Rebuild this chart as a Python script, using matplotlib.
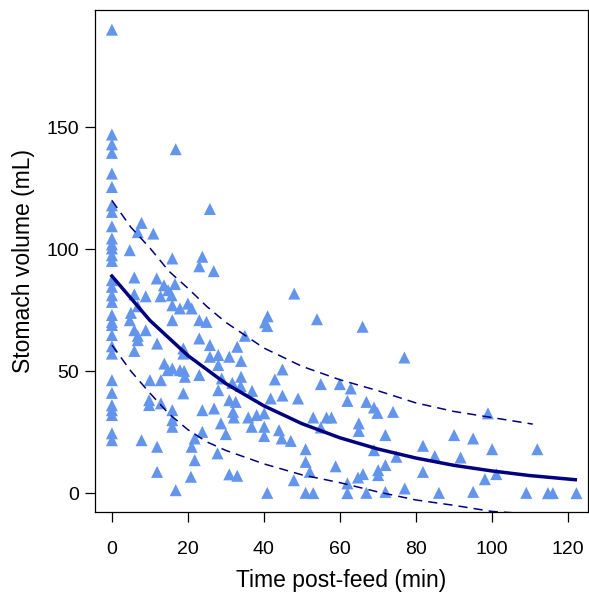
import matplotlib
matplotlib.use("Agg")
import matplotlib.pyplot as plt
import numpy as np

plt.rcParams['font.family'] = ['Liberation Sans', 'DejaVu Sans']

# observed stomach volumes: time (min), volume (mL)
time_min = [0]*31 + [
    16.8, 25.8, 7.8, 6.8, 10.9, 4.7, 15.9, 23.8, 23, 26.8,
    5.9, 11.8, 13.7, 16.6, 14.8, 5.9, 8.9, 12.8, 15.7, 15.9,
    17.9, 20, 21, 6.8, 5, 4.7, 15.9, 23, 24.9, 5.9,
    8.9, 6.8, 23, 6.8, 11.9, 25.8, 18.8, 5.9, 18.8, 25.8,
    28, 13.8, 15.9, 14.7, 17.9, 19, 28, 19.2, 23, 10,
    12.9, 28, 18.8, 9.8, 9.8, 12.9, 15.9, 23.8, 26.9, 15.9,
    15.9, 28.7, 7.8, 23.8, 21.8, 11.9, 21, 27.8, 21.8, 11.9,
    20.8, 16.8,
    48, 41, 40.3, 40.9, 54, 35,
    33, 30.9, 34, 44.9, 42.9, 34, 28.9, 31.7, 33.9, 36.9,
    41.8, 44.9, 49, 55, 60, 30.9, 32.6, 31.9, 32.1, 35.9,
    38.1, 40.1, 36.8, 40.1, 30, 44, 44.7, 47.1, 40.1, 53,
    56.5, 57.8, 55, 51, 51, 52.1, 47.9, 58.9, 30.9, 33,
    40.9, 51, 53,
    66, 77,
    62.9, 62, 67, 69, 69.9, 74, 65, 65, 72, 90.1,
    81.9, 69, 85, 74.9, 91.8, 72, 70.1, 70.1, 66.1, 64.8,
    81.9, 62, 62, 67, 72, 77.1, 86.1,
    99, 95.1, 100.1, 112, 98.2, 101.2, 95.1, 109.1, 114.8, 116.1,
    122.3,
]
volume_ml = [
    190, 147, 143, 139.5, 131, 125.5, 118, 115.3, 109.4, 104.4,
    102, 100.3, 97.5, 95.2, 87.3, 84.6, 81.1, 78.4, 73, 70.2,
    68.9, 64.8, 60.2, 57.2, 46.3, 41.1, 36, 34, 32, 24.5,
    21.7,
    141, 116.5, 110.8, 107, 106.4, 99.6, 96.2, 96.9, 93, 91,
    88.4, 88, 85.2, 85.7, 83.2, 81.5, 80.7, 80.7, 81.1, 77,
    75.7, 77.7, 75.7, 76.6, 73.9, 70.9, 70.9, 70.9, 70.2, 66.8,
    66.8, 64.5, 63.4, 62.7, 61.3, 60.7, 59.3, 58.3, 57.2, 55.9,
    56.6, 53.1, 51.1, 50.4, 50.4, 50.1, 52.5, 47.7, 48.4, 46.3,
    46.3, 42.2, 40.9, 38.1, 36.1, 36.8, 34, 34, 34.7, 29.9,
    27.2, 28.6, 21.7, 25.1, 22.4, 19, 19, 16.3, 13.5, 8.7,
    6.7, 1.2,
    81.8, 72.5, 70, 68.5, 71.3, 64.5,
    60, 55.9, 54.2, 50.7, 46.6, 47.7, 47, 45.2, 43.9, 41.9,
    38.8, 40, 38.8, 44.7, 44.7, 38.1, 37.4, 33.3, 31, 31,
    32, 32.7, 27.2, 27.2, 24.2, 25.8, 22.4, 21.4, 23.4, 31,
    31, 31, 26.9, 18, 12.8, 8.7, 5.3, 11, 7.7, 7.1,
    0.1, 0.1, 0,
    68.2, 55.6,
    42.9, 37.8, 37.4, 35.1, 32.9, 33.3, 28.6, 25.5, 23.8, 23.8,
    19.4, 17.6, 15.2, 14.9, 14.6, 11.5, 9.4, 7.4, 7.8, 6.4,
    8.7, 4, 0, 0.1, 0.5, 1.9, 0.1,
    32.7, 22.4, 18, 18, 5.7, 7.8, 0.5, 0.1, 0, 0,
    0,
]

# fitted curve and band
fit_t = [0, 10, 20, 30, 40, 50, 60, 70, 80, 90, 100, 110, 122]
fit_v = [89, 70.8, 56.4, 44.9, 35.8, 28.5, 22.7, 18.1, 14.4, 11.4, 9.1, 7.2, 5.5]
upper_t = [0, 5, 10, 15, 20, 25, 30, 40, 50, 60, 70, 80, 90, 100, 110.8]
upper_v = [120, 109, 100.5, 91, 84, 76.5, 70, 59.5, 52, 46.5, 42, 37, 33.5, 31, 28.3]
lower_t = [0, 5, 10, 15, 20, 25, 30, 40, 50, 60, 70, 80, 90, 100, 110, 116]
lower_v = [60.7, 50, 41, 32.5, 26, 21, 17.5, 12, 7.5, 4.3, 0.5, -2.8, -5, -7.5, -8.5, -8.5]

fig = plt.figure(figsize=(5.89, 5.99), dpi=100)
ax = fig.add_axes([0.161, 0.145, 0.837, 0.838])

ax.scatter(time_min, volume_ml, marker='^', s=75, color='#6495ED',
           edgecolors='none', zorder=2)
ax.plot(fit_t, fit_v, color='#000080', lw=2.5, zorder=3)
ax.plot(upper_t, upper_v, color='#000080', lw=1.1, ls=(0, (6, 4)), zorder=3)
ax.plot(lower_t, lower_v, color='#000080', lw=1.1, ls=(0, (6, 4)), zorder=3)

ax.set_xlim(-4.5, 125.3)
ax.set_ylim(-7.8, 198)
ax.set_xticks([0, 20, 40, 60, 80, 100, 120])
ax.set_yticks([0, 50, 100, 150])
for s in ax.spines.values():
    s.set_linewidth(0.9)
ax.tick_params(axis='both', direction='out', length=7.5, width=0.9, labelsize=14)
ax.tick_params(axis='x', pad=13)
ax.tick_params(axis='y', pad=4)

ax.set_xlabel('Time post-feed (min)', fontsize=16.5, labelpad=8)
ax.set_ylabel('Stomach volume (mL)', fontsize=16.5, labelpad=8)

fig.savefig('out.png', dpi=100)
